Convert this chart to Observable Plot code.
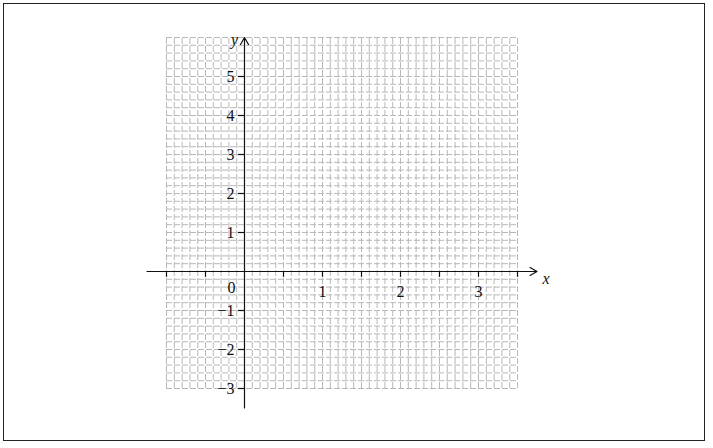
<!DOCTYPE html>
<html>
<head>
<meta charset="utf-8">
<script src="https://cdn.jsdelivr.net/npm/d3@7"></script>
<script src="https://cdn.jsdelivr.net/npm/@observablehq/plot@0.6"></script>
<style>
  html, body { margin: 0; padding: 0; background: #fff; }
  #wrap { position: relative; width: 713px; height: 448px; }
  #border { position: absolute; left: 3px; top: 3px; width: 700px; height: 436px; border: 1.5px solid #222; pointer-events: none; }
  svg { display: block; }
  svg text { font-family: "Liberation Serif", "Times New Roman", serif !important; }
</style>
</head>
<body>
<div id="wrap"><div id="border"></div></div>
<script>
// Domain of the grid
const xDomain = [-1, 3.5];
const yDomain = [-3, 6];
// Grid steps
const xGridStep = 0.1;
const yGridStep = 0.2;
// Axis extents (with arrows)
const xAxisExtent = [-1.25, 3.75];
const yAxisExtent = [-3.5, 6.0];
// Ticks
const xTicks = [-1, -0.5, 0.5, 1, 1.5, 2, 2.5, 3, 3.5];
const xTickLabels = [1, 2, 3];
const yTicks = [-3, -2, -1, 1, 2, 3, 4, 5];
const yTickLabels = [-3, -2, -1, 1, 2, 3, 4, 5];
const originLabel = ["0"];
const axisNames = {x: "x", y: "y"};

const xGrid = d3.range(Math.round((xDomain[1] - xDomain[0]) / xGridStep) + 1).map(i => +(xDomain[0] + i * xGridStep).toFixed(2));
const yGrid = d3.range(Math.round((yDomain[1] - yDomain[0]) / yGridStep) + 1).map(i => +(yDomain[0] + i * yGridStep).toFixed(2));

const fmt = v => v < 0 ? "\u2212" + Math.abs(v) : String(v);
const font = "Liberation Serif";

const chart = Plot.plot({
  width: 713,
  height: 448,
  marginLeft: 166,
  marginRight: 196,
  marginTop: 37,
  marginBottom: 60,
  x: {type: "linear", domain: xDomain, axis: null},
  y: {type: "linear", domain: yDomain, axis: null},
  style: {fontFamily: font, fontSize: "16px", background: "white", overflow: "visible"},
  marks: [
    Plot.ruleX(xGrid, {x: d => d, y1: () => yDomain[0], y2: () => yDomain[1], stroke: "#b8b8b8", strokeWidth: 1, strokeDasharray: "6,2"}),
    Plot.ruleY(yGrid, {y: d => d, x1: () => xDomain[0], x2: () => xDomain[1], stroke: "#b8b8b8", strokeWidth: 1, strokeDasharray: "6,2"}),
    Plot.arrow([0], {x1: () => xAxisExtent[0], x2: () => xAxisExtent[1], y1: () => 0, y2: () => 0, stroke: "#111", strokeWidth: 1.2, headLength: 10, bend: 0}),
    Plot.arrow([0], {x1: () => 0, x2: () => 0, y1: () => yAxisExtent[0], y2: () => yAxisExtent[1], stroke: "#111", strokeWidth: 1.2, headLength: 10, bend: 0}),
    Plot.ruleX(xTicks, {x: d => d, y1: () => 0, y2: () => -0.15, stroke: "#111", strokeWidth: 1.2}),
    Plot.ruleY(yTicks, {y: d => d, x1: () => -0.08, x2: () => 0, stroke: "#111", strokeWidth: 1.2}),
    Plot.text(xTickLabels, {x: d => d, y: () => 0, text: d => fmt(d), dy: 20, fill: "#111", fontSize: 16, fontFamily: font}),
    Plot.text(yTickLabels, {x: () => 0, y: d => d, text: d => fmt(d), dx: -10, textAnchor: "end", fill: "#111", fontSize: 16, fontFamily: font}),
    Plot.text(originLabel, {x: () => 0, y: () => 0, text: d => d, dx: -13, dy: 16, fill: "#111", fontSize: 16, fontFamily: font}),
    Plot.text([axisNames.x], {x: () => xAxisExtent[1], y: () => 0, text: d => d, dx: 9, dy: 7, fill: "#111", fontSize: 16, fontStyle: "italic", fontFamily: font}),
    Plot.text([axisNames.y], {x: () => 0, y: () => yDomain[1], text: d => d, dx: -10, dy: 2, fill: "#111", fontSize: 16, fontStyle: "italic", fontFamily: font})
  ]
});
document.getElementById("wrap").prepend(chart);
</script>
</body>
</html>
